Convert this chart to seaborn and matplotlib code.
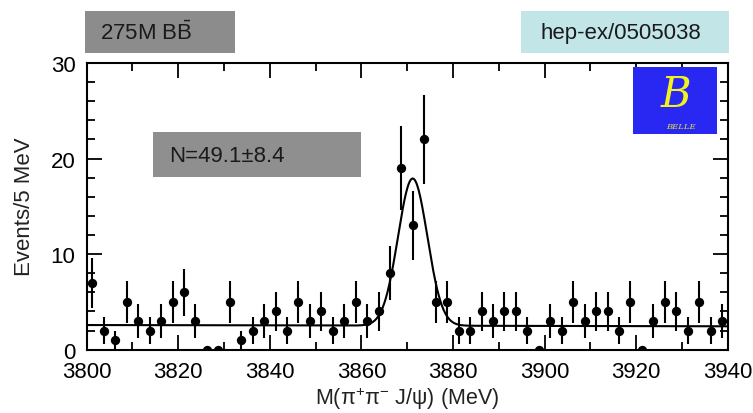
import numpy as np
import pandas as pd
import matplotlib
matplotlib.use("Agg")
import matplotlib.pyplot as plt
from matplotlib.patches import Rectangle
from matplotlib.ticker import MultipleLocator
import seaborn as sns

# ---------------- data ----------------
bin_low = 3800.0
bin_width = 2.5
counts = [7, 2, 1, 5, 3, 2, 3, 5, 6, 3,
          0, 0, 5, 1, 2, 3, 4, 2, 5, 3,
          4, 2, 3, 5, 3, 4, 8, 19, 13, 22,
          5, 5, 2, 2, 4, 3, 4, 4, 2, 0,
          3, 2, 5, 3, 4, 4, 2, 5, 0, 3,
          5, 4, 2, 5, 2, 3]
# fit: gaussian signal on linear background
fit_bg_left = 2.58     # background at 3800 MeV
fit_bg_right = 2.45    # background at 3940 MeV
fit_amp = 15.4
fit_mean = 3871.2
fit_sigma = 3.2
x_range = (3800, 3940)
y_range = (0, 30)
label_events = "Events/5 MeV"
label_mass = "M(π$^{+}$π$^{-}$ J/ψ) (MeV)"
text_lumi = "275M B$\\bar{\\mathrm{B}}$"
text_ref = "hep-ex/0505038"
text_yield = "N=49.1±8.4"

counts = np.array(counts, dtype=float)
centers = bin_low + bin_width * (np.arange(len(counts)) + 0.5)
errors = np.sqrt(counts)
df = pd.DataFrame({"mass": centers, "events": counts, "err": errors})

xf = np.linspace(x_range[0], x_range[1], 800)
bg = fit_bg_left + (fit_bg_right - fit_bg_left) * (xf - x_range[0]) / (x_range[1] - x_range[0])
yf = bg + fit_amp * np.exp(-0.5 * ((xf - fit_mean) / fit_sigma) ** 2)
fit_df = pd.DataFrame({"mass": xf, "fit": yf})

# ---------------- style ----------------
sns.set_theme(style="ticks")
plt.rcParams["font.family"] = ["Liberation Sans", "DejaVu Sans"]
plt.rcParams["mathtext.fontset"] = "custom"
plt.rcParams["mathtext.rm"] = "Liberation Sans"
plt.rcParams["mathtext.it"] = "Liberation Sans:italic"
plt.rcParams["mathtext.bf"] = "Liberation Sans:bold"

W, H = 753, 414
fig = plt.figure(figsize=(W / 100, H / 100), dpi=100)
fig.patch.set_facecolor("white")


def fx(px):
    return px / W


def fy(py):
    return 1 - py / H


ax_l, ax_r, ax_t, ax_b = 86.7, 727.7, 64.0, 350.7
ax = fig.add_axes([fx(ax_l), fy(ax_b), fx(ax_r) - fx(ax_l), fy(ax_t) - fy(ax_b)])
ax.set_facecolor("white")

ax.errorbar(df["mass"], df["events"], yerr=df["err"], fmt="none",
            ecolor="black", elinewidth=1.5, capsize=0, zorder=2)
sns.scatterplot(data=df, x="mass", y="events", color="black", s=45,
                edgecolor="black", linewidth=0, ax=ax, zorder=3)
sns.lineplot(data=fit_df, x="mass", y="fit", color="black", linewidth=1.5,
             ax=ax, zorder=4)

ax.set_xlim(*x_range)
ax.set_ylim(*y_range)
ax.xaxis.set_major_locator(MultipleLocator(20))
ax.xaxis.set_minor_locator(MultipleLocator(10))
ax.yaxis.set_major_locator(MultipleLocator(10))
ax.yaxis.set_minor_locator(MultipleLocator(2))
ax.tick_params(which="both", direction="in", top=True, right=True,
               colors="black", labelsize=16, width=1.3)
ax.tick_params(which="major", length=11, pad=8)
ax.tick_params(which="minor", length=6)
for s in ax.spines.values():
    s.set_linewidth(1.5)
    s.set_color("black")
    s.set_visible(True)
ax.set_xlabel("")
ax.set_ylabel("")

fig.text(fx(25), fy(207), label_events, rotation=90, ha="center", va="center",
         fontsize=16, color="#222222")
fig.text(fx(407), fy(399), label_mass, ha="center", va="center",
         fontsize=15.5, color="#222222")

# ---------- boxes ----------
def box(x0, y0, x1, y1, color):
    fig.add_artist(Rectangle((fx(x0), fy(y1)), fx(x1) - fx(x0), fy(y0) - fy(y1),
                             transform=fig.transFigure, facecolor=color,
                             edgecolor="none", zorder=5))

box(85, 12, 235, 54, "#8c8c8c")
fig.text(fx(100), fy(33), text_lumi, ha="left", va="center", fontsize=16,
         color="#1a1a1a", zorder=6)

box(521, 12, 729, 54, "#c2e5e7")
fig.text(fx(621), fy(33), text_ref, ha="center", va="center", fontsize=16,
         color="#1a1a1a", zorder=6)

box(153, 133, 361, 178, "#8f8f8f")
fig.text(fx(169), fy(156), text_yield, ha="left", va="center", fontsize=16,
         color="#1a1a1a", zorder=6)

# ---------- Belle logo ----------
box(633, 68, 717, 135, "#2828f2")
fig.text(fx(676), fy(95), "B", ha="center", va="center", fontsize=30,
         fontstyle="italic", family="DejaVu Serif", color="#f2f21e", zorder=6)
fig.text(fx(681), fy(127), "BELLE", ha="center", va="center", fontsize=6,
         fontstyle="italic", family="DejaVu Serif", color="#e0e040", zorder=6)

fig.savefig("out.png", dpi=100, facecolor="white")
